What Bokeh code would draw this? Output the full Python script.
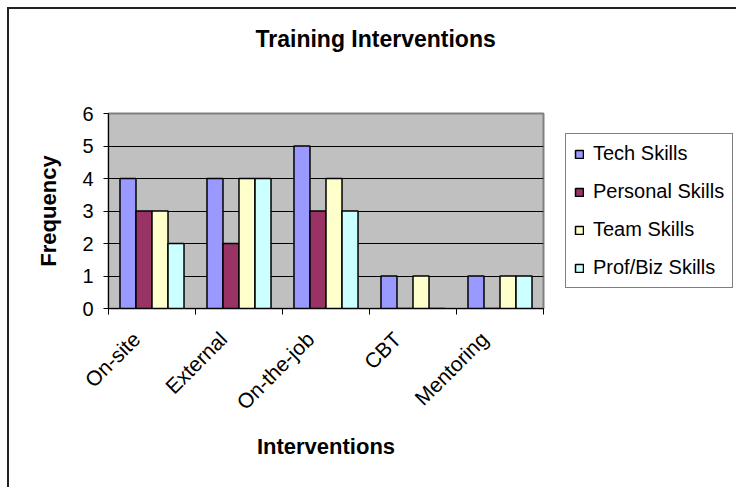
import numpy as np
from bokeh.plotting import figure
from bokeh.models import (ColumnDataSource, FixedTicker, Range1d, Legend,
                          LegendItem, Title)
from bokeh.transform import dodge
from bokeh.embed import file_html
from bokeh.resources import INLINE

# Training interventions by skill type (frequency counts)
categories = ["On-site", "External", "On-the-job", "CBT", "Mentoring"]
tech_skills = [4, 4, 5, 1, 1]
personal_skills = [3, 2, 3, 0, 0]
team_skills = [3, 4, 4, 1, 1]
prof_biz_skills = [2, 4, 3, 0, 1]

series_names = ["Tech Skills", "Personal Skills", "Team Skills", "Prof/Biz Skills"]
series_fields = ["tech", "personal", "team", "profbiz"]
series_colors = ["#9999FF", "#993366", "#FFFFCC", "#CCFFFF"]
y_ticks = [0, 1, 2, 3, 4, 5, 6]

FONT = "Liberation Sans"

centers = np.arange(len(categories)) + 0.5
source = ColumnDataSource(dict(
    x=centers,
    tech=tech_skills,
    personal=personal_skills,
    team=team_skills,
    profbiz=prof_biz_skills,
))

p = figure(
    frame_width=435, frame_height=195,
    x_range=Range1d(0, len(categories)), y_range=Range1d(y_ticks[0], y_ticks[-1]),
    output_backend="svg", toolbar_location=None,
    min_border_left=108, min_border_right=193,
    min_border_top=113, min_border_bottom=179,
)
# chart-area border: thin dark rule along the left and top edges, drawn as page background
p.border_fill_color = None
p.styles = {
    "background": ("linear-gradient(#222, #222) 7px 7px / 2px 100% no-repeat, "
                   "linear-gradient(#222, #222) 7px 7px / 100% 2px no-repeat, white"),
}

# title sits well above the plot area: two empty trailing lines lift it
p.title = Title(text="Training Interventions\n\n", align="left", offset=147,
                vertical_align="bottom", standoff=20,
                text_font=FONT, text_font_size="23px", text_font_style="bold",
                text_color="black")

p.background_fill_color = "#C0C0C0"
p.outline_line_color = "#808080"
p.outline_line_width = 2

# grouped bars
bar_w = 0.184
offsets = [-1.5 * bar_w, -0.5 * bar_w, 0.5 * bar_w, 1.5 * bar_w]
renderers = []
for field, color, off in zip(series_fields, series_colors, offsets):
    r = p.vbar(x=dodge("x", off), top=field, width=bar_w, bottom=0,
               source=source, fill_color=color, line_color="black",
               line_width=1.5)
    renderers.append(r)

# category labels sit slightly left of each group centre; tick marks at boundaries
label_pos = [float(c) - 0.18 for c in centers]
xa = p.xaxis[0]
xa.ticker = FixedTicker(ticks=label_pos, minor_ticks=list(range(len(categories) + 1)))
xa.major_label_overrides = {lp: name for lp, name in zip(label_pos, categories)}
xa.major_label_orientation = np.pi / 4
xa.major_tick_out = 0
xa.major_tick_in = 0
xa.minor_tick_out = 6
xa.minor_tick_in = 0
xa.minor_tick_line_color = "black"
xa.axis_line_color = "black"
xa.major_label_text_font = FONT
xa.major_label_text_font_size = "21px"
xa.major_label_text_color = "black"
xa.major_label_standoff = 21
xa.axis_label = "Interventions"
xa.axis_label_text_font = FONT
xa.axis_label_text_font_size = "22px"
xa.axis_label_text_font_style = "bold"
xa.axis_label_text_color = "black"
xa.axis_label_standoff = 9

ya = p.yaxis[0]
ya.ticker = FixedTicker(ticks=y_ticks)
ya.major_tick_out = 5
ya.major_tick_in = 0
ya.minor_tick_out = 0
ya.minor_tick_in = 0
ya.major_tick_line_color = "black"
ya.axis_line_color = "black"
ya.major_label_text_font = FONT
ya.major_label_text_font_size = "20px"
ya.major_label_text_color = "black"
ya.major_label_standoff = 10
ya.axis_label = "Frequency"
ya.axis_label_text_font = FONT
ya.axis_label_text_font_size = "22px"
ya.axis_label_text_font_style = "bold"
ya.axis_label_text_color = "black"
ya.axis_label_standoff = 18

p.xgrid.visible = False
p.ygrid.ticker = FixedTicker(ticks=y_ticks[1:-1])
p.ygrid.grid_line_color = "black"
p.ygrid.grid_line_width = 1

legend = Legend(
    items=[LegendItem(label=n, renderers=[r]) for n, r in zip(series_names, renderers)],
    location=(22, 20),
    label_text_font=FONT, label_text_font_size="20px", label_text_color="black",
    glyph_width=10, glyph_height=10, label_standoff=9,
    label_height=22, spacing=15, padding=8, margin=0,
    border_line_color="black", border_line_width=1.5,
    background_fill_color="white", background_fill_alpha=1.0,
)
p.add_layout(legend, "right")

open("out.html", "w").write(file_html(p, INLINE))
